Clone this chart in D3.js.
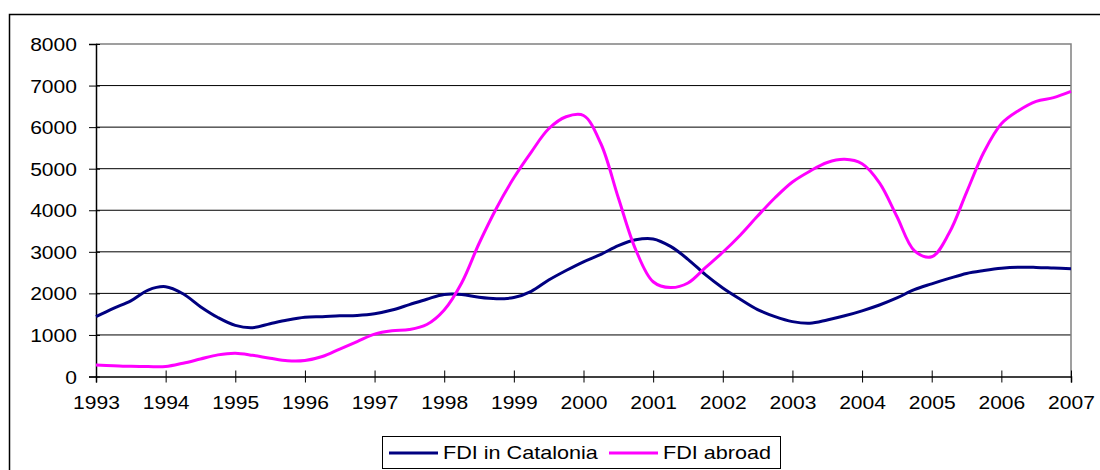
<!DOCTYPE html>
<html>
<head>
<meta charset="utf-8">
<script src="https://cdn.jsdelivr.net/npm/d3@7"></script>
<style>
  body { margin: 0; background: #fff; }
  svg { display: block; }
  text { font-family: "Liberation Sans", Arial, sans-serif; fill: #000; }
</style>
</head>
<body>
<svg id="chart" width="1100" height="470"></svg>
<script>
// quarterly points, 1993.00 .. 2007.00
const years = d3.range(57).map(i => 1993 + i / 4);
const fdiCatalonia = [
  1440, 1640, 1820, 2080, 2160, 1990, 1680, 1420, 1230, 1175, 1270, 1360,
  1425, 1440, 1460, 1470, 1510, 1600, 1730, 1860, 1975, 1975, 1905, 1870,
  1900, 2050, 2320, 2550, 2760, 2940, 3150, 3290, 3310, 3130, 2820, 2450,
  2130, 1860, 1610, 1440, 1320, 1280, 1360, 1460, 1580, 1720, 1890, 2090,
  2230, 2360, 2480, 2550, 2605, 2630, 2625, 2610, 2595
];
const fdiAbroad = [
  275, 260, 245, 238, 240, 320, 420, 520, 560, 510, 440, 380,
  385, 480, 660, 840, 1020, 1100, 1130, 1250, 1600, 2250, 3200, 4050,
  4780, 5400, 5960, 6250, 6280, 5600, 4300, 3050, 2280, 2140, 2250, 2620,
  2990, 3400, 3860, 4300, 4680, 4940, 5150, 5225, 5120, 4660, 3850, 3030,
  2880, 3450, 4430, 5400, 6080, 6400, 6620, 6710, 6860
];
const xTicks = d3.range(1993, 2008);
const yTicks = d3.range(0, 8001, 1000);
const seriesNames = ["FDI in Catalonia", "FDI abroad"];
const seriesColors = ["#000080", "#ff00ff"];

const svg = d3.select('#chart');
const plotL = 96, plotR = 1071, plotT = 44, plotB = 376.5;

const x = d3.scaleLinear().domain([1993, 2007]).range([plotL, plotR]);
const y = d3.scaleLinear().domain([0, 8000]).range([plotB, plotT]);

// outer chart border (runs off the right and bottom edges)
svg.append('rect')
  .attr('x', 9.5).attr('y', 14.5)
  .attr('width', 1200).attr('height', 600)
  .attr('fill', 'none').attr('stroke', '#000').attr('stroke-width', 1.5);

// gridlines
svg.append('g')
  .selectAll('line')
  .data(yTicks.filter(v => v > 0 && v < 8000))
  .join('line')
  .attr('x1', plotL).attr('x2', plotR)
  .attr('y1', d => y(d)).attr('y2', d => y(d))
  .attr('stroke', '#000').attr('stroke-width', 1);

// plot area border top/right
svg.append('path')
  .attr('d', `M${plotL},${y(8000)}H${plotR}V${plotB}`)
  .attr('fill', 'none').attr('stroke', '#808080').attr('stroke-width', 1.5);

// axes
const yAxis = svg.append('g')
  .attr('transform', `translate(${plotL},0)`)
  .call(d3.axisLeft(y).tickValues(yTicks).tickSize(7).tickPadding(0).tickFormat(d3.format('d')));
yAxis.select('.domain').attr('stroke', '#000').attr('stroke-width', 1.5);
yAxis.selectAll('.tick line').attr('x2', -7).attr('x1', 4).attr('stroke', '#000');
yAxis.selectAll('.tick text')
  .attr('font-size', 18)
  .attr('x', null).attr('dy', null)
  .attr('text-anchor', 'end')
  .attr('transform', 'translate(-19,6.5) scale(1.17,1)');

const xAxis = svg.append('g')
  .attr('transform', `translate(0,${plotB})`)
  .call(d3.axisBottom(x).tickValues(xTicks).tickSize(6).tickFormat(d3.format('d')));
xAxis.select('.domain').attr('stroke', '#000').attr('stroke-width', 1.5);
xAxis.selectAll('.tick line').attr('y1', -6).attr('y2', 6).attr('stroke', '#000');
xAxis.selectAll('.tick text')
  .attr('font-size', 18)
  .attr('y', null).attr('dy', null)
  .attr('text-anchor', 'middle')
  .attr('transform', 'translate(0,32.5) scale(1.17,1)');

// lines (smoothed like the spreadsheet original)
const line = d3.line()
  .x((d, i) => x(years[i]))
  .y(d => y(d))
  .curve(d3.curveCatmullRom.alpha(0.5));

[fdiCatalonia, fdiAbroad].forEach((vals, k) => {
  svg.append('path')
    .datum(vals)
    .attr('d', line)
    .attr('fill', 'none')
    .attr('stroke', seriesColors[k])
    .attr('stroke-width', 3)
    .attr('stroke-linejoin', 'round');
});

// legend
const lg = svg.append('g');
lg.append('rect')
  .attr('x', 382.5).attr('y', 436.5)
  .attr('width', 398).attr('height', 32)
  .attr('fill', '#fff').attr('stroke', '#000').attr('stroke-width', 1);
const legendX = [389, 609];
seriesNames.forEach((name, k) => {
  lg.append('line')
    .attr('x1', legendX[k]).attr('x2', legendX[k] + 49)
    .attr('y1', 453).attr('y2', 453)
    .attr('stroke', seriesColors[k]).attr('stroke-width', 3);
  lg.append('text')
    .attr('font-size', 18)
    .attr('transform', `translate(${legendX[k] + 54},459) scale(1.2,1)`)
    .text(name);
});
</script>
</body>
</html>
